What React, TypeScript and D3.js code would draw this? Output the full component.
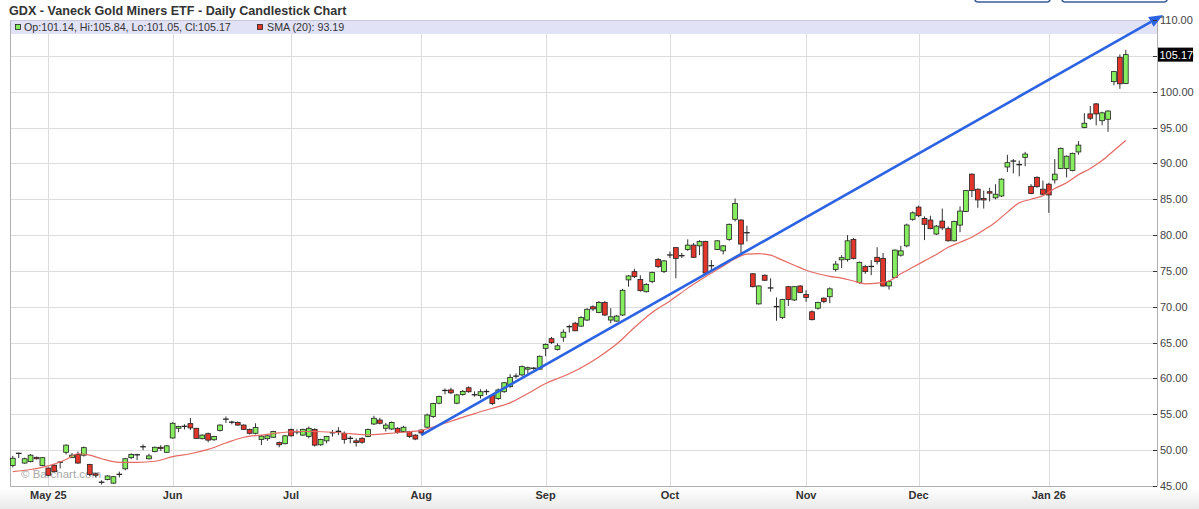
import React from "react";
import * as d3 from "d3";

const W = 1199;
const H = 509;

const open = [
  47.85, 49.5, 48.2, 48.4, 49.0, 47.85, 47.5, 47.9, 48.3, 49.7,
  48.95, 49.4, 49.3, 48.0, 46.7, 45.5, 45.9, 45.4, 46.6, 47.4,
  48.95, 49.3, 50.45, 48.8, 49.8, 50.4, 49.7, 51.7, 53.05, 53.3,
  53.7, 53.05, 51.6, 52.3, 51.45, 52.75, 54.3, 53.85, 53.85, 53.5,
  52.9, 52.35, 51.5, 51.6, 51.8, 51.05, 50.9, 52.9, 52.5, 52.1,
  51.9, 52.9, 50.75, 51.3, 52.4, 52.6, 52.35, 51.6, 51.3, 51.65,
  51.9, 53.65, 54.2, 53.05, 52.95, 53.05, 52.6, 52.6, 52.1, 52.8,
  53.2, 54.7, 56.55, 58.3, 58.4, 56.55, 57.75, 58.7, 57.7, 57.6,
  58.15, 57.6, 57.2, 58.15, 58.85, 60.3, 60.5, 61.3, 61.4, 61.3,
  64.2, 65.55, 64.05, 65.75, 67.2, 67.7, 67.3, 68.15, 70.0, 69.2,
  70.6, 68.15, 68.0, 68.85, 73.75, 74.9, 73.8, 72.1, 73.5, 76.6,
  74.9, 77.2, 78.25, 77.1, 78.0, 78.6, 78.5, 79.1, 75.7, 78.0,
  77.8, 79.4, 82.2, 82.1, 80.3, 74.6, 70.4, 74.4, 72.6, 70.05,
  68.5, 72.8, 70.95, 72.9, 71.7, 69.3, 69.8, 71.2, 71.4, 75.2,
  76.55, 76.6, 79.4, 73.4, 75.6, 75.6, 76.9, 76.75, 72.9, 74.1,
  77.2, 78.5, 82.2, 83.9, 82.3, 82.1, 80.15, 81.95, 80.9, 79.2,
  81.4, 83.3, 88.5, 86.4, 85.1, 86.05, 85.2, 85.45, 89.5, 90.3,
  89.8, 90.84, 86.8, 88.05, 86.4, 87.1, 87.7, 89.3, 89.3, 89.0,
  91.6, 95.0, 96.9, 98.3, 95.95, 96.15, 101.4, 104.8, 101.14,
];

const high = [
  49.2, 49.65, 48.95, 49.45, 49.1, 49.0, 47.6, 48.0, 48.4, 50.8,
  49.6, 49.8, 50.5, 48.1, 46.8, 45.8, 46.5, 46.4, 47.0, 48.9,
  49.55, 49.5, 50.8, 49.5, 50.5, 50.7, 50.7, 53.9, 53.4, 53.6,
  54.5, 53.1, 52.2, 52.45, 52.0, 53.6, 54.7, 54.1, 54.0, 53.6,
  53.0, 53.75, 52.1, 52.2, 52.7, 51.2, 52.1, 53.0, 52.9, 53.0,
  53.3, 53.05, 51.6, 52.0, 52.8, 53.2, 52.6, 52.0, 51.65, 51.8,
  53.0, 54.8, 54.5, 53.8, 54.0, 53.2, 53.4, 52.7, 52.2, 52.9,
  55.1, 56.6, 57.6, 58.6, 58.7, 57.85, 58.4, 58.9, 58.2, 58.5,
  58.5, 57.7, 58.6, 59.5, 60.6, 60.7, 61.8, 61.65, 61.6, 63.2,
  64.9, 65.8, 64.9, 66.85, 67.5, 67.9, 68.7, 69.8, 70.2, 70.8,
  70.8, 69.8, 68.85, 72.5, 74.4, 75.3, 74.4, 73.3, 74.9, 76.8,
  76.5, 77.7, 78.3, 77.5, 79.4, 78.9, 79.3, 79.2, 76.5, 79.3,
  78.6, 81.6, 85.1, 82.2, 81.3, 74.7, 73.0, 74.5, 73.97, 71.3,
  71.1, 72.9, 72.9, 73.0, 72.3, 69.5, 70.7, 71.3, 72.7, 76.4,
  77.2, 80.0, 79.6, 76.3, 75.8, 76.5, 78.3, 77.5, 73.7, 78.0,
  78.5, 81.6, 83.3, 84.1, 82.6, 82.7, 81.4, 83.7, 81.2, 82.0,
  84.0, 86.3, 88.6, 86.5, 86.2, 86.6, 87.1, 87.9, 91.2, 90.6,
  90.4, 91.6, 87.1, 88.2, 87.6, 87.3, 90.6, 92.2, 91.1, 91.5,
  93.1, 97.0, 98.0, 98.4, 97.2, 97.4, 102.9, 105.2, 105.84,
];

const low = [
  47.6, 48.9, 48.1, 48.3, 48.7, 47.8, 46.4, 46.9, 47.45, 49.4,
  48.9, 48.1, 49.1, 46.4, 46.2, 45.2, 45.8, 45.3, 46.2, 47.2,
  48.75, 48.6, 50.0, 48.7, 49.7, 49.9, 49.6, 51.6, 52.5, 52.9,
  52.8, 51.55, 51.5, 51.1, 51.3, 52.6, 53.8, 53.6, 53.4, 52.8,
  52.2, 52.2, 50.7, 51.3, 51.7, 50.4, 50.8, 51.9, 52.2, 52.0,
  51.65, 50.5, 50.6, 50.95, 51.9, 52.1, 50.9, 50.96, 50.5, 50.9,
  51.8, 53.5, 53.6, 52.6, 52.8, 52.3, 52.5, 51.7, 51.4, 52.1,
  53.05, 54.5, 56.4, 57.8, 57.8, 56.4, 57.6, 58.0, 57.45, 57.2,
  57.7, 56.3, 57.0, 58.0, 58.7, 60.0, 60.3, 60.5, 61.2, 61.2,
  63.1, 64.8, 63.9, 65.1, 66.4, 66.6, 67.2, 68.0, 69.4, 69.1,
  68.7, 67.7, 67.9, 68.7, 72.8, 74.0, 72.1, 72.0, 73.3, 75.4,
  74.7, 76.8, 73.97, 76.8, 77.8, 76.8, 77.2, 74.6, 75.1, 77.9,
  77.3, 79.2, 81.9, 77.2, 79.1, 72.7, 70.3, 73.6, 72.1, 68.05,
  68.3, 70.1, 70.8, 71.9, 70.7, 68.1, 69.6, 70.5, 70.5, 74.9,
  75.4, 76.3, 76.6, 73.2, 74.6, 74.4, 75.9, 72.8, 72.4, 74.0,
  77.0, 78.3, 82.0, 82.5, 79.3, 80.8, 80.0, 80.7, 79.1, 79.1,
  80.4, 83.2, 85.3, 83.8, 83.7, 84.7, 84.98, 85.3, 88.8, 88.6,
  88.2, 89.6, 85.7, 86.6, 85.6, 83.1, 87.2, 89.2, 88.05, 88.9,
  91.2, 94.9, 96.05, 95.3, 95.3, 94.4, 100.9, 100.4, 101.05,
];

const close = [
  48.87, 49.6, 48.8, 49.3, 48.8, 48.95, 46.5, 47.0, 48.35, 50.7,
  49.3, 48.2, 50.35, 46.6, 46.5, 45.55, 46.4, 46.3, 46.65, 48.8,
  49.4, 49.4, 50.5, 49.2, 50.4, 50.25, 50.6, 53.75, 53.3, 53.35,
  53.1, 51.65, 52.1, 51.4, 51.9, 53.5, 54.35, 53.95, 53.5, 52.9,
  52.35, 53.15, 51.95, 52.0, 52.6, 50.75, 52.0, 52.0, 52.6, 52.9,
  53.05, 50.7, 51.5, 51.9, 52.45, 52.65, 51.5, 51.7, 51.05, 51.1,
  52.9, 54.45, 53.75, 53.5, 53.85, 52.45, 53.2, 51.9, 51.55, 52.4,
  54.9, 56.5, 57.5, 58.35, 58.0, 57.7, 58.2, 58.15, 57.75, 58.15,
  58.2, 56.5, 58.4, 59.4, 60.15, 60.35, 61.65, 61.5, 61.45, 63.1,
  64.75, 65.0, 64.55, 66.45, 67.25, 66.65, 68.5, 69.65, 69.7, 70.6,
  68.85, 68.6, 68.7, 72.3, 74.3, 74.2, 72.25, 73.1, 74.8, 75.6,
  76.4, 77.25, 76.75, 77.15, 78.6, 76.9, 79.1, 74.7, 75.75, 79.2,
  78.5, 81.5, 84.4, 78.75, 80.35, 72.8, 72.9, 73.7, 72.65, 70.0,
  71.0, 71.0, 72.8, 72.0, 71.3, 68.2, 70.6, 70.75, 72.5, 75.95,
  76.85, 79.2, 76.75, 76.2, 74.9, 75.65, 76.3, 72.9, 73.5, 77.9,
  77.8, 81.4, 83.1, 82.7, 81.5, 80.9, 81.25, 81.0, 79.2, 81.9,
  83.35, 86.2, 86.2, 84.9, 84.9, 85.85, 85.7, 87.8, 90.1, 90.35,
  89.85, 91.3, 85.8, 86.75, 85.7, 85.6, 88.5, 92.1, 91.0, 91.4,
  92.55, 95.6, 96.3, 96.9, 97.05, 97.3, 102.8, 101.1, 105.17,
];

const smaIdx = [
  0, 3, 6, 9, 11, 13, 15, 18, 21, 24, 27, 30, 33, 36, 39, 42, 45, 48, 51, 54,
  57, 60, 63, 66, 69, 72, 75, 78, 81, 84, 87, 90, 93, 96, 99, 102, 105, 108, 111, 114,
  117, 120, 122, 124, 126, 128, 130, 132, 134, 136, 138, 140, 142, 144, 146, 148, 150, 152, 154, 156,
  158, 160, 162, 164, 166, 168, 170, 172, 174, 176, 178, 180, 182, 184, 186, 188,
];
const smaVal = [
  47.0, 47.3, 47.8, 48.7, 49.5, 49.3, 48.8, 48.3, 48.3, 48.45, 49.1, 49.5, 50.1, 51.0, 51.8, 52.1, 52.4, 52.6, 52.6, 52.5,
  52.3, 52.15, 52.3, 52.5, 52.75, 53.5, 54.3, 55.1, 55.85, 56.6, 57.9, 59.3, 60.3, 61.5, 63.0, 64.8, 67.1, 69.2, 70.8, 72.6,
  74.2, 75.7, 76.7, 77.35, 77.4, 77.2, 76.5, 75.8, 75.1, 74.6, 74.25, 74.0, 73.6, 73.2, 73.3, 73.6, 74.6, 75.5, 76.4, 77.3,
  78.3, 79.0, 79.7, 80.7, 81.8, 83.2, 84.5, 85.0, 85.5, 86.5, 87.3, 88.4, 89.3, 90.4, 91.8, 93.19,
];

// trend line drawn on the chart (index, price)
const trendIdx = [69, 194.3];
const trendVal = [52.1, 110.7];

const monthIdx = [6, 27, 47, 69, 90, 111, 134, 153, 175];
const monthLabels = ["May 25", "Jun", "Jul", "Aug", "Sep", "Oct", "Nov", "Dec", "Jan 26"];

const yTickVals = [45, 50, 55, 60, 65, 70, 75, 80, 85, 90, 95, 100, 105, 110];

const lastPrice = 105.17;
const smaLast = 93.19;

const FONT = "'Liberation Sans', Arial, Helvetica, sans-serif";

export default function App() {
  const PL = 10.5;
  const PR = 1157;
  const PT = 20.5;
  const PB = 486;

  const x = d3.scaleLinear().domain([0, 188]).range([12.8, 1125.8]);
  const y = d3.scaleLinear().domain([45, 110]).range([486, 20]);

  const bw = 4.8;
  const green = "#86ee5e";
  const red = "#e2362b";

  const smaLine = d3
    .line<number>()
    .x((d, i) => x(smaIdx[i]))
    .y((d) => y(d))
    .curve(d3.curveMonotoneX)(smaVal);

  const tx0 = x(trendIdx[0]);
  const ty0 = y(trendVal[0]);
  const tx1 = x(trendIdx[1]);
  const ty1 = y(trendVal[1]);
  const ang = Math.atan2(ty1 - ty0, tx1 - tx0);
  const headL = 14;
  const headW = 5.5;
  const bx = tx1 - headL * Math.cos(ang);
  const by = ty1 - headL * Math.sin(ang);
  const px = -Math.sin(ang);
  const py = Math.cos(ang);
  const arrowPts = [
    [tx1, ty1],
    [bx + px * headW, by + py * headW],
    [bx - px * headW, by - py * headW],
  ]
    .map((p) => p.join(","))
    .join(" ");

  return (
    <svg
      width={W}
      height={H}
      viewBox={`0 0 ${W} ${H}`}
      style={{ position: "absolute", left: 0, top: 0, display: "block", background: "#fff" }}
      fontFamily={FONT}
    >
      <defs>
        <linearGradient id="botGrad" x1="0" y1="0" x2="0" y2="1">
          <stop offset="0" stopColor="#ffffff" />
          <stop offset="1" stopColor="#e9e9e9" />
        </linearGradient>
      </defs>
      <rect x={0} y={0} width={W} height={H} fill="#fff" />
      <rect x={0} y={488} width={W} height={21} fill="url(#botGrad)" />

      {/* top-right buttons (cut off) */}
      <rect x={975} y={-20} width={75} height={22} rx={3} fill="#fff" stroke="#3a5d98" strokeWidth={1.6} />
      <rect x={1062} y={-20} width={105} height={22} rx={3} fill="#fff" stroke="#3a5d98" strokeWidth={1.6} />

      {/* title */}
      <text x={9} y={14.5} fontSize={12.6} fontWeight="bold" fill="#333">
        GDX - Vaneck Gold Miners ETF - Daily Candlestick Chart
      </text>

      {/* gridlines */}
      {yTickVals.map((v) => (
        <line key={"gy" + v} x1={PL} x2={PR} y1={Math.round(y(v)) + 0.5} y2={Math.round(y(v)) + 0.5} stroke="#dcdcdc" strokeWidth={1} />
      ))}
      {monthIdx.map((m) => (
        <line key={"gx" + m} x1={Math.round(x(m)) + 0.5} x2={Math.round(x(m)) + 0.5} y1={PT} y2={PB} stroke="#dcdcdc" strokeWidth={1} />
      ))}

      {/* legend band */}
      <rect x={PL} y={PT} width={PR - PL} height={13.5} fill="#e2e2f7" />
      <rect x={15.5} y={24.5} width={5} height={5} fill={green} stroke="#222" strokeWidth={0.8} />
      <text x={24} y={31} fontSize={10.7} fill="#333">
        {`Op:${open[188].toFixed(2)}, Hi:${high[188].toFixed(2)}, Lo:${low[188].toFixed(2)}, Cl:${close[188].toFixed(2)}`}
      </text>
      <rect x={257.5} y={24.5} width={5} height={5} fill={red} stroke="#222" strokeWidth={0.8} />
      <text x={267} y={31} fontSize={10.7} fill="#333">
        {`SMA (20): ${smaLast.toFixed(2)}`}
      </text>

      {/* watermark */}
      <text x={21} y={478} fontSize={11.5} fill="#999" opacity={0.85}>
        © Barchart.com
      </text>

      {/* plot border */}
      <line x1={PL} x2={PL} y1={PT} y2={PB} stroke="#b0b0b0" />
      <line x1={PL} x2={PR} y1={PT} y2={PT} stroke="#c8c8d8" />
      <line x1={PL} x2={PR} y1={PB + 0.5} y2={PB + 0.5} stroke="#b0b0b0" />
      <line x1={PR + 0.5} x2={PR + 0.5} y1={PT} y2={PB + 0.5} stroke="#b0b0b0" />

      {/* candles */}
      {open.map((o, i) => {
        const c = close[i];
        const cx = x(i);
        const top = y(Math.max(o, c));
        const bot = y(Math.min(o, c));
        const doji = Math.abs(c - o) < 0.12;
        const fill = c >= o ? green : red;
        return (
          <g key={"c" + i}>
            <line x1={cx} x2={cx} y1={y(high[i])} y2={y(low[i])} stroke="#333" strokeWidth={1} />
            {doji ? (
              <line x1={cx - bw / 2 - 0.4} x2={cx + bw / 2 + 0.4} y1={(top + bot) / 2} y2={(top + bot) / 2} stroke="#222" strokeWidth={1.3} />
            ) : (
              <rect x={cx - bw / 2} y={top} width={bw} height={Math.max(bot - top, 1)} fill={fill} stroke="#222" strokeWidth={0.8} />
            )}
          </g>
        );
      })}

      {/* SMA line */}
      <path d={smaLine || ""} fill="none" stroke="#e46a63" strokeWidth={1.2} />

      {/* trend line */}
      <line x1={tx0} y1={ty0} x2={bx} y2={by} stroke="#2b63e3" strokeWidth={2.6} />
      <polygon points={arrowPts} fill="#2b63e3" />

      {/* right axis */}
      {yTickVals.map((v) => (
        <g key={"yt" + v}>
          <line x1={PR - 4} x2={PR} y1={Math.round(y(v)) + 0.5} y2={Math.round(y(v)) + 0.5} stroke="#333" />
          <text x={PR + 3} y={y(v) + 4} fontSize={11} fill="#444">
            {v.toFixed(2)}
          </text>
        </g>
      ))}
      <rect x={PR + 1} y={y(lastPrice) - 7} width={35} height={14} fill="#000" />
      <text x={PR + 2.5} y={y(lastPrice) + 4} fontSize={11} fill="#fff">
        {lastPrice.toFixed(2)}
      </text>

      {/* bottom axis labels */}
      {monthIdx.map((m, k) => (
        <text key={"xl" + m} x={x(m)} y={499} fontSize={11} fontWeight="bold" fill="#333" textAnchor="middle">
          {monthLabels[k]}
        </text>
      ))}
    </svg>
  );
}
